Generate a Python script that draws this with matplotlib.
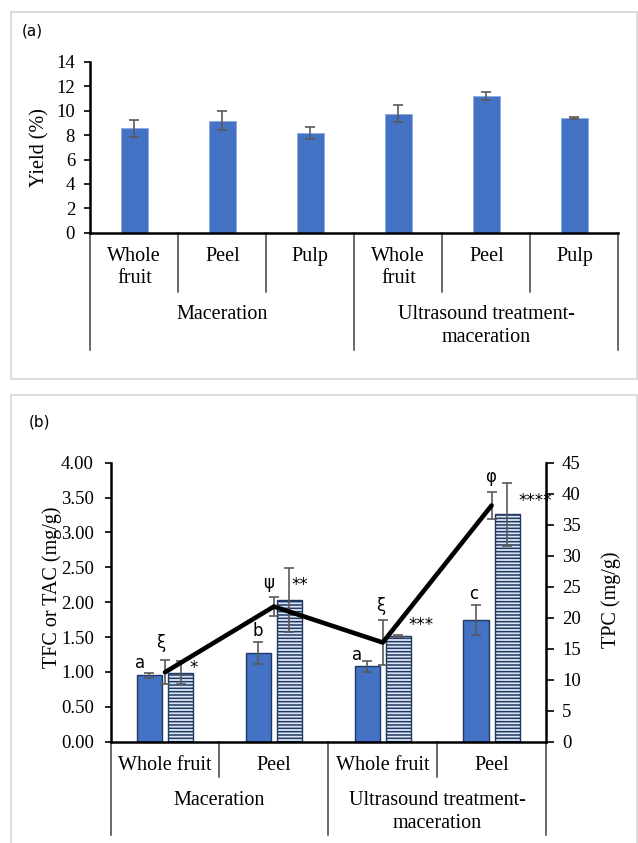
import matplotlib
matplotlib.use("Agg")
import matplotlib.pyplot as plt
from matplotlib.patches import Rectangle
import numpy as np

# ---------------- data ----------------
yield_labels = ["Whole\nfruit", "Peel", "Pulp", "Whole\nfruit", "Peel", "Pulp"]
yield_values = [8.55, 9.2, 8.2, 9.75, 11.2, 9.4]
yield_errors = [0.7, 0.8, 0.5, 0.7, 0.3, 0.1]
groups = ["Maceration", "Ultrasound treatment-\nmaceration"]

b_labels = ["Whole fruit", "Peel", "Whole fruit", "Peel"]
tfc_values = [0.95, 1.27, 1.08, 1.745]
tfc_errors = [0.03, 0.16, 0.08, 0.22]
tac_values = [0.99, 2.03, 1.515, 3.26]
tac_errors = [0.16, 0.46, 0.01, 0.45]
tpc_values = [11.2, 21.8, 16.0, 38.1]
tpc_errors = [1.95, 1.5, 3.65, 2.15]
tfc_letters = ["a", "b", "a", "c"]
tac_marks = ["*", "**", "***", "****"]
tpc_marks = ["ξ", "ψ", "ξ", "φ"]

# ---------------- style ----------------
W, H = 638, 843
BLUE = "#4472C4"
NAVY = "#1F3864"
ERR = "#595959"
SERIF = "Liberation Serif"
SANS = "DejaVu Sans"
TICK_FS = 13.5
LAB_FS = 14.5
plt.rcParams["hatch.color"] = BLUE
plt.rcParams["hatch.linewidth"] = 1.1

fig = plt.figure(figsize=(W / 100, H / 100), dpi=100)


def ax_rect(left, right, top, bottom):
    return [left / W, 1 - bottom / H, (right - left) / W, (bottom - top) / H]


def frac(ypix, top, bottom):
    """pixel row -> axes fraction for an axes spanning top..bottom"""
    return (bottom - ypix) / (bottom - top)


# panel frames
for (x0, y0, x1, y1) in [(10.5, 11.5, 637, 379), (10.5, 394.5, 637, 850)]:
    fig.patches.append(Rectangle((x0 / W, 1 - y1 / H), (x1 - x0) / W, (y1 - y0) / H,
                                 transform=fig.transFigure, fill=False,
                                 edgecolor="#D9D9D9", linewidth=1.3))
fig.text(22 / W, 1 - 31 / H, "(a)", fontsize=11, family=SANS, va="center")
fig.text(29 / W, 1 - 422 / H, "(b)", fontsize=11, family=SANS, va="center")

# ---------------- panel (a) ----------------
A_TOP, A_BOT = 62, 232.7
A_L, A_R = 90.3, 618.4
ax = fig.add_axes(ax_rect(A_L, A_R, A_TOP, A_BOT))
xa = np.arange(len(yield_values))
ax.bar(xa, yield_values, width=0.31, color=BLUE, edgecolor="#8FAADC", linewidth=0.6,
       yerr=yield_errors, error_kw=dict(ecolor=ERR, elinewidth=1.2, capsize=3.5, capthick=1.2))
ax.set_xlim(-0.5, len(yield_values) - 0.5)
ax.set_ylim(0, 14)
ax.set_yticks(np.arange(0, 15, 2))
ax.set_xticks([])
for s in ["top", "right"]:
    ax.spines[s].set_visible(False)
ax.spines["left"].set_linewidth(1.8)
ax.spines["bottom"].set_linewidth(1.8)
ax.tick_params(axis="y", direction="out", length=4, width=1.2, labelsize=TICK_FS, pad=7)
for t in ax.get_yticklabels():
    t.set_family(SERIF)
ax.set_ylabel("Yield (%)", family=SERIF, fontsize=LAB_FS)
ax.yaxis.set_label_coords((49 - A_L) / (A_R - A_L), 0.5)

short_a = frac(291.7, A_TOP, A_BOT)
long_a = frac(350, A_TOP, A_BOT)
for i in range(len(yield_values) + 1):
    xs = i - 0.5
    y_end = long_a if i in (0, 3, 6) else short_a
    ax.plot([xs, xs], [0, y_end], transform=ax.get_xaxis_transform(), color="#404040",
            lw=1.1, clip_on=False)
for i, lab in enumerate(yield_labels):
    for k, ln in enumerate(lab.split("\n")):
        ypix = 256.7 + 22.3 * k
        ax.text(i, frac(ypix, A_TOP, A_BOT), ln, transform=ax.get_xaxis_transform(),
                ha="center", va="center", family=SERIF, fontsize=LAB_FS)
for g, lab in enumerate(groups):
    for k, ln in enumerate(lab.split("\n")):
        ypix = 315 + 23 * k
        ax.text(1 + 3 * g, frac(ypix, A_TOP, A_BOT), ln, transform=ax.get_xaxis_transform(),
                ha="center", va="center", family=SERIF, fontsize=LAB_FS)

# ---------------- panel (b) ----------------
B_TOP, B_BOT = 462.7, 741.7
B_L, B_R = 110.6, 546
bx = fig.add_axes(ax_rect(B_L, B_R, B_TOP, B_BOT))
xb = np.arange(len(tfc_values))
off, bw = 0.143, 0.23
bx.bar(xb - off, tfc_values, width=bw, color=BLUE, edgecolor=NAVY, linewidth=1.0,
       yerr=tfc_errors, error_kw=dict(ecolor=ERR, elinewidth=1.2, capsize=3.5, capthick=1.2),
       zorder=2)
bx.bar(xb + off, tac_values, width=bw, color="#DCE5F4", edgecolor=NAVY, linewidth=1.0,
       hatch="-----", yerr=tac_errors,
       error_kw=dict(ecolor=ERR, elinewidth=1.2, capsize=3.5, capthick=1.2), zorder=2)
bx.set_xlim(-0.5, len(tfc_values) - 0.5)
bx.set_ylim(0, 4)
bx.set_yticks(np.arange(0, 4.01, 0.5))
bx.set_yticklabels([f"{v:.2f}" for v in np.arange(0, 4.01, 0.5)])
bx.set_xticks([])
bx.spines["top"].set_visible(False)
bx.spines["right"].set_visible(False)
bx.spines["left"].set_linewidth(1.8)
bx.spines["bottom"].set_linewidth(1.8)
bx.tick_params(axis="y", direction="out", length=4, width=1.2, labelsize=TICK_FS, pad=8)
for t in bx.get_yticklabels():
    t.set_family(SERIF)
bx.set_ylabel("TFC or TAC (mg/g)", family=SERIF, fontsize=LAB_FS)
bx.yaxis.set_label_coords((62 - B_L) / (B_R - B_L), 0.555)

tx = bx.twinx()
tx.set_ylim(0, 45)
tx.set_yticks(np.arange(0, 46, 5))
tx.errorbar(xb, tpc_values, yerr=tpc_errors, fmt="none", ecolor=ERR, elinewidth=1.2,
            capsize=3.5, capthick=1.2, zorder=3)
tx.plot(xb, tpc_values, color="black", lw=3.3, solid_capstyle="round", zorder=4)
for s in ["top", "left", "bottom"]:
    tx.spines[s].set_visible(False)
tx.spines["right"].set_linewidth(1.8)
tx.tick_params(axis="y", direction="out", length=6, width=1.2, labelsize=TICK_FS, pad=5.5)
for t in tx.get_yticklabels():
    t.set_family(SERIF)
tx.set_ylabel("TPC (mg/g)", family=SERIF, fontsize=LAB_FS)
tx.yaxis.set_label_coords((601 - B_L) / (B_R - B_L), 0.508)

# significance letters and symbols
L = dict(family=SANS, fontsize=12, ha="center", va="center", zorder=5)
letter_pos = [(-0.23, 1.128), (-0.148, 1.59), (-0.24, 1.243), (-0.163, 2.117)]
mark_pos = [(0.265, 1.06), (0.24, 2.25), (0.35, 1.67), (0.40, 3.45)]
greek_pos = [(-0.04, 1.42), (-0.05, 2.27), (-0.02, 1.945), (-0.006, 3.79)]
for i in range(len(tfc_values)):
    bx.text(i + letter_pos[i][0], letter_pos[i][1], tfc_letters[i], **L)
    bx.text(i + mark_pos[i][0], mark_pos[i][1], tac_marks[i], clip_on=False, **L)
    bx.text(i + greek_pos[i][0], greek_pos[i][1], tpc_marks[i], **L)

short_b = frac(776.7, B_TOP, B_BOT)
long_b = frac(835, B_TOP, B_BOT)
for i in range(len(tfc_values) + 1):
    xs = i - 0.5
    y_end = long_b if i in (0, 2, 4) else short_b
    bx.plot([xs, xs], [0, y_end], transform=bx.get_xaxis_transform(), color="#404040",
            lw=1.1, clip_on=False)
for i, lab in enumerate(b_labels):
    bx.text(i, frac(765, B_TOP, B_BOT), lab, transform=bx.get_xaxis_transform(),
            ha="center", va="center", family=SERIF, fontsize=LAB_FS)
for g, lab in enumerate(groups):
    for k, ln in enumerate(lab.split("\n")):
        ypix = 800.7 + 22.6 * k
        bx.text(0.5 + 2 * g, frac(ypix, B_TOP, B_BOT), ln, transform=bx.get_xaxis_transform(),
                ha="center", va="center", family=SERIF, fontsize=LAB_FS)

fig.savefig("out.png", dpi=100)
